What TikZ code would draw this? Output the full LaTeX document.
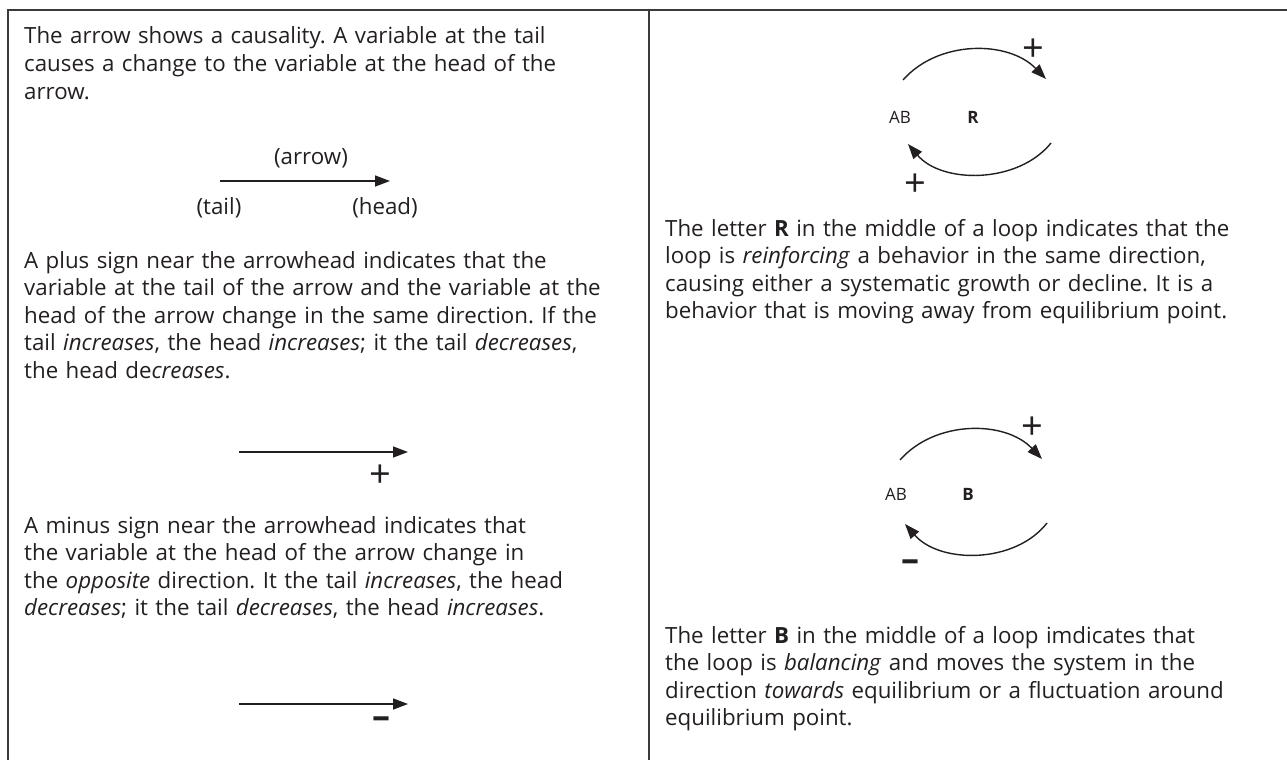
\documentclass[tikz,border=0pt]{standalone}
\usepackage{fontspec}
\setmainfont{Open Sans}
\usetikzlibrary{arrows.meta}
\frenchspacing
\definecolor{ink}{HTML}{231F20}
\definecolor{frame}{HTML}{3A3A3A}
\tikzset{
  para/.style={anchor=base west, inner sep=0pt, text width=760pt, align=left, text=ink,
    font=\fontsize{22.3}{27.6}\selectfont\frenchspacing},
  label/.style={inner sep=0pt, anchor=base, text=ink, font=\fontsize{22.3}{27.6}\selectfont},
  small/.style={inner sep=0pt, anchor=base, text=ink, font=\fontsize{17}{19}\selectfont},
  sign/.style={inner sep=0pt, anchor=center, text=ink, font=\fontsize{38}{38}\selectfont},
  minus/.style={inner sep=0pt, anchor=center, text=ink, font=\fontsize{36}{36}\selectfont\bfseries},
  causal/.style={draw=ink, line width=1.4pt, -{Triangle[length=15pt,width=11pt]}},
  rule/.style={draw=frame, line width=2pt},
}
\begin{document}
\begin{tikzpicture}[x=1pt,y=-1pt]
\useasboundingbox[fill=white] (0,0) rectangle (1287,760);
% frame
\coordinate (tl) at (8,10);
\coordinate (tr) at (1287,10);
\coordinate (bl) at (8,760);
\coordinate (tm) at (649,10);
\coordinate (bm) at (649,760);
\draw[rule] (tr) -- (tl) -- (bl);
\draw[rule] (tm) -- (bm);

% left column
\node[para] (p1) at (24,44) {The arrow shows a causality. A variable at the tail\\causes a change to the variable at the head of the\\arrow.};
\node[label] (larrow) at (311,164) {(arrow)};
\coordinate (a1s) at (220,181);
\coordinate (a1e) at (390,181);
\draw[causal] (a1s) -- (a1e);
\node[label] (ltail) at (219,214) {(tail)};
\node[label] (lhead) at (385,214) {(head)};

\node[para] (p2) at (24,268) {A plus sign near the arrowhead indicates that the\\variable at the tail of the arrow and the variable at the\\head of the arrow change in the same direction. If the\\tail \textit{increases}, the head \textit{increases}; it the tail \textit{decreases},\\the head de\textit{creases}.};
\coordinate (a2s) at (239,452);
\coordinate (a2e) at (408,452);
\draw[causal] (a2s) -- (a2e);
\node[sign] (plus1) at (380,476) {+};

\node[para] (p3) at (24,533) {A minus sign near the arrowhead indicates that\\the variable at the head of the arrow change in\\the \textit{opposite} direction. It the tail \textit{increases}, the head\\\textit{decreases}; it the tail \textit{decreases}, the head \textit{increases}.};
\coordinate (a3s) at (239,704);
\coordinate (a3e) at (408,704);
\draw[causal] (a3s) -- (a3e);
\node[minus] (minus1) at (381,723) {–};

% right column: R loop
\node[small] (rab) at (900,123) {AB};
\node[small] (rr) at (973,123) {\textbf{R}};
\coordinate (r1s) at (903,80);
\coordinate (r1e) at (1046,79);
\draw[causal] (r1s) .. controls (938,40) and (1008,40) .. (r1e);
\node[sign] (rplus1) at (1033,50) {+};
\coordinate (r2s) at (1051,143);
\coordinate (r2e) at (908,144);
\draw[causal] (r2s) .. controls (1018,184) and (942,184) .. (r2e);
\node[sign] (rplus2) at (915,185) {+};

\node[para] (p4) at (665,236) {The letter \textbf{R} in the middle of a loop indicates that the\\loop is \textit{reinforcing} a behavior in the same direction,\\causing either a systematic growth or decline. It is a\\behavior that is moving away from equilibrium point.};

% right column: B loop
\node[small] (bab) at (896,500) {AB};
\node[small] (bb) at (968,500) {\textbf{B}};
\coordinate (b1s) at (900,460);
\coordinate (b1e) at (1042,459);
\draw[causal] (b1s) .. controls (935,420) and (1005,420) .. (b1e);
\node[sign] (bplus) at (1032,428) {+};
\coordinate (b2s) at (1047,523);
\coordinate (b2e) at (905,524);
\draw[causal] (b2s) .. controls (1015,564) and (940,564) .. (b2e);
\node[minus] (bminus) at (910,566) {–};

\node[para] (p5) at (665,643) {The letter \textbf{B} in the middle of a loop imdicates that\\the loop is \textit{balancing} and moves the system in the\\direction \textit{towards} equilibrium or a fluctuation around\\equilibrium point.};
\end{tikzpicture}
\end{document}
